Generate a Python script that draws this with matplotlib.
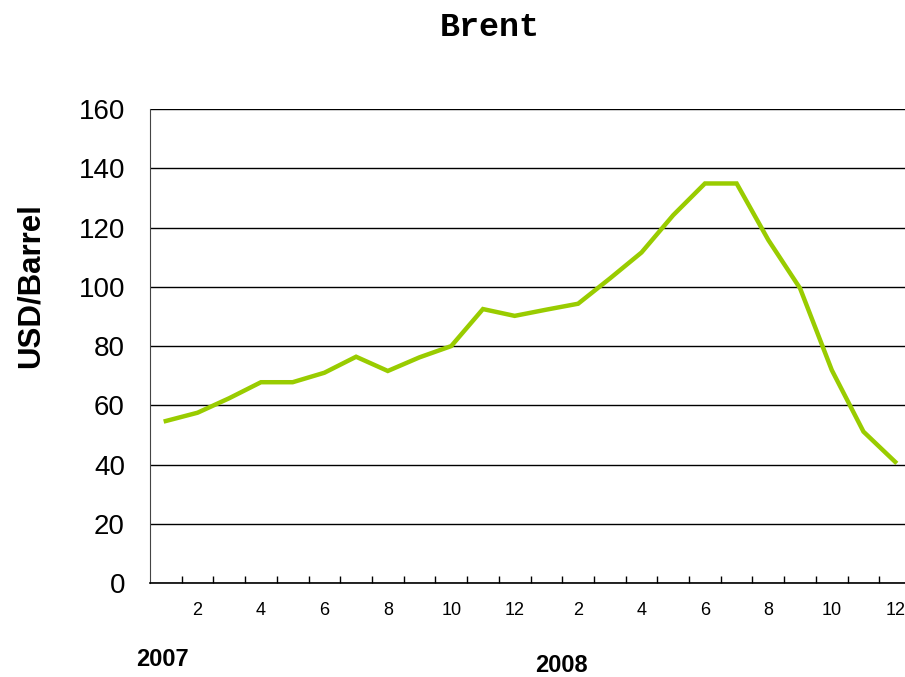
import matplotlib
matplotlib.use("Agg")
import matplotlib.pyplot as plt
import numpy as np

# Brent monthly prices, Jan 2007 - Dec 2008 (USD/barrel)
months = [1, 2, 3, 4, 5, 6, 7, 8, 9, 10, 11, 12,
          1, 2, 3, 4, 5, 6, 7, 8, 9, 10, 11, 12]
prices = [54.7, 57.5, 62.4, 67.8, 67.8, 71.0, 76.4, 71.6, 76.2, 80.0, 92.5, 90.2,
          92.3, 94.3, 102.8, 111.6, 124.2, 134.9, 134.9, 115.8, 99.5, 71.9, 51.1, 40.9]
years = ["2007", "2008"]

plt.rcParams["font.family"] = ["Liberation Sans", "DejaVu Sans"]

fig = plt.figure(figsize=(9.05, 6.77), dpi=100)
ax = fig.add_axes([0.1657, 0.1388, 0.841, 0.700])

x = np.arange(len(prices))
ax.plot(x, prices, color="#99CC00", linewidth=3.2, solid_joinstyle="miter")

ax.set_xlim(-0.5, len(prices) - 0.5)
ax.set_ylim(0, 160)
ax.set_yticks(np.arange(0, 161, 20))
ax.yaxis.grid(True, color="black", linewidth=1.0)
ax.set_axisbelow(True)
ax.tick_params(axis="y", labelsize=20, length=0, pad=18)

# month boundaries as tick marks, even months labelled at centres
ax.set_xticks(np.arange(len(prices)) + 0.5)
ax.set_xticklabels([])
ax.tick_params(axis="x", which="major", direction="in", length=5, width=1)
lab_idx = [i for i, m in enumerate(months) if m % 2 == 0]
ax.set_xticks(lab_idx, minor=True)
ax.set_xticklabels([str(months[i]) for i in lab_idx], minor=True)
ax.tick_params(axis="x", which="minor", length=0, labelsize=13, pad=14)

for s in ["top", "right"]:
    ax.spines[s].set_visible(False)
ax.spines["left"].set_color("#444444")
ax.spines["bottom"].set_linewidth(1.2)

fig.text(31 / 905, 1 - 286 / 677, "USD/Barrel", fontsize=22.5, fontweight="bold",
         rotation=90, ha="center", va="center")

fig.text(162 / 905, 1 - 660 / 677, years[0], fontsize=17, fontweight="bold",
         ha="center", va="center")
fig.text(561 / 905, 1 - 665 / 677, years[1], fontsize=17, fontweight="bold",
         ha="center", va="center")
fig.text(490 / 905, 1 - 27 / 677, "Brent", fontsize=24, fontweight="bold",
         family=["Liberation Mono", "DejaVu Serif"], ha="center", va="center")

fig.savefig("out.png", dpi=100)
